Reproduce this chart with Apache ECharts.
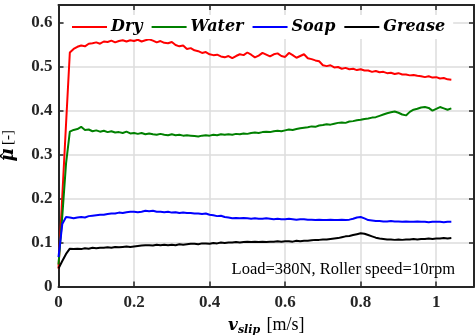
<!DOCTYPE html>
<html>
<head>
<meta charset="utf-8">
<script src="https://cdn.jsdelivr.net/npm/echarts@6/dist/echarts.min.js"></script>
<style>
  html, body { margin: 0; padding: 0; background: #fff; }
  #main { width: 476px; height: 336px; }
</style>
</head>
<body>
<div id="main"></div>
<script>
// slip velocity [m/s]
var slip = [
  0.00, 0.01, 0.02, 0.03, 0.04, 0.05, 0.06, 0.07, 0.08, 0.09,
  0.10, 0.11, 0.12, 0.13, 0.14, 0.15, 0.16, 0.17, 0.18, 0.19,
  0.20, 0.21, 0.22, 0.23, 0.24, 0.25, 0.26, 0.27, 0.28, 0.29,
  0.30, 0.31, 0.32, 0.33, 0.34, 0.35, 0.36, 0.37, 0.38, 0.39,
  0.40, 0.41, 0.42, 0.43, 0.44, 0.45, 0.46, 0.47, 0.48, 0.49,
  0.50, 0.51, 0.52, 0.53, 0.54, 0.55, 0.56, 0.57, 0.58, 0.59,
  0.60, 0.61, 0.62, 0.63, 0.64, 0.65, 0.66, 0.67, 0.68, 0.69,
  0.70, 0.71, 0.72, 0.73, 0.74, 0.75, 0.76, 0.77, 0.78, 0.79,
  0.80, 0.81, 0.82, 0.83, 0.84, 0.85, 0.86, 0.87, 0.88, 0.89,
  0.90, 0.91, 0.92, 0.93, 0.94, 0.95, 0.96, 0.97, 0.98, 0.99,
  1.00, 1.01, 1.02, 1.03, 1.04
]

var dry = [
  0.041, 0.205, 0.370, 0.532, 0.540, 0.545, 0.548, 0.546, 0.552, 0.553,
  0.555, 0.552, 0.557, 0.556, 0.559, 0.555, 0.558, 0.560, 0.557, 0.560,
  0.558, 0.561, 0.557, 0.560, 0.562, 0.559, 0.555, 0.558, 0.554, 0.553,
  0.556, 0.549, 0.546, 0.548, 0.540, 0.542, 0.537, 0.535, 0.531, 0.533,
  0.528, 0.526, 0.527, 0.523, 0.521, 0.524, 0.519, 0.524, 0.528, 0.526,
  0.532, 0.527, 0.521, 0.525, 0.531, 0.527, 0.523, 0.528, 0.530, 0.524,
  0.522, 0.531, 0.526, 0.520, 0.524, 0.528, 0.519, 0.517, 0.514, 0.512,
  0.503, 0.501, 0.503, 0.498, 0.499, 0.495, 0.497, 0.494, 0.495, 0.492,
  0.494, 0.491, 0.491, 0.488, 0.490, 0.487, 0.488, 0.485, 0.486, 0.483,
  0.485, 0.482, 0.482, 0.480, 0.481, 0.479, 0.478, 0.476, 0.478, 0.475,
  0.476, 0.473, 0.474, 0.471, 0.470
]

var water = [
  0.050, 0.160, 0.280, 0.352, 0.356, 0.358, 0.363, 0.356, 0.357, 0.353,
  0.355, 0.352, 0.354, 0.351, 0.353, 0.350, 0.351, 0.349, 0.352, 0.348,
  0.349, 0.347, 0.349, 0.346, 0.348, 0.346, 0.345, 0.347, 0.345, 0.344,
  0.346, 0.344, 0.345, 0.343, 0.344, 0.343, 0.342, 0.341, 0.343, 0.344,
  0.343, 0.345, 0.344, 0.346, 0.345, 0.346, 0.345, 0.347, 0.346, 0.348,
  0.347, 0.349, 0.350, 0.349, 0.351, 0.352, 0.351, 0.353, 0.354, 0.353,
  0.355, 0.357, 0.356, 0.358, 0.360, 0.361, 0.362, 0.364, 0.363, 0.366,
  0.367, 0.369, 0.368, 0.370, 0.372, 0.373, 0.372, 0.375, 0.376, 0.378,
  0.379, 0.381, 0.382, 0.384, 0.385, 0.388, 0.391, 0.394, 0.396, 0.398,
  0.395, 0.391, 0.389, 0.397, 0.402, 0.404, 0.407, 0.408, 0.406, 0.400,
  0.404, 0.408, 0.405, 0.402, 0.405
]

var soap = [
  0.067, 0.142, 0.158, 0.157, 0.155, 0.157, 0.158, 0.157, 0.160, 0.161,
  0.162, 0.163, 0.163, 0.165, 0.166, 0.166, 0.168, 0.167, 0.169, 0.170,
  0.170, 0.169, 0.170, 0.172, 0.171, 0.172, 0.170, 0.170, 0.169, 0.170,
  0.168, 0.169, 0.167, 0.168, 0.167, 0.167, 0.166, 0.166, 0.165, 0.166,
  0.163, 0.162, 0.160, 0.161, 0.158, 0.157, 0.155, 0.156, 0.155, 0.156,
  0.155, 0.154, 0.155, 0.154, 0.154, 0.155, 0.154, 0.153, 0.154, 0.153,
  0.153, 0.154, 0.153, 0.152, 0.153, 0.153, 0.152, 0.152, 0.151, 0.152,
  0.151, 0.151, 0.152, 0.151, 0.151, 0.152, 0.151, 0.152, 0.154, 0.157,
  0.158, 0.155, 0.151, 0.150, 0.149, 0.149, 0.148, 0.148, 0.149, 0.148,
  0.148, 0.147, 0.148, 0.147, 0.147, 0.148, 0.147, 0.147, 0.146, 0.147,
  0.147, 0.147, 0.146, 0.147, 0.147
]

var grease = [
  0.041, 0.058, 0.074, 0.086, 0.085, 0.086, 0.085, 0.087, 0.086, 0.088,
  0.087, 0.088, 0.088, 0.089, 0.088, 0.090, 0.089, 0.090, 0.091, 0.090,
  0.091, 0.092, 0.093, 0.094, 0.094, 0.093, 0.095, 0.094, 0.095, 0.094,
  0.095, 0.094, 0.096, 0.095, 0.096, 0.097, 0.097, 0.096, 0.098, 0.098,
  0.097, 0.099, 0.098, 0.100, 0.099, 0.100, 0.100, 0.101, 0.100, 0.101,
  0.102, 0.101, 0.102, 0.101, 0.102, 0.101, 0.102, 0.102, 0.103, 0.102,
  0.103, 0.103, 0.102, 0.104, 0.103, 0.104, 0.104, 0.105, 0.106, 0.106,
  0.107, 0.107, 0.108, 0.109, 0.110, 0.112, 0.114, 0.115, 0.117, 0.119,
  0.121, 0.120, 0.117, 0.114, 0.111, 0.109, 0.108, 0.107, 0.107, 0.106,
  0.107, 0.106, 0.107, 0.107, 0.108, 0.107, 0.108, 0.108, 0.109, 0.108,
  0.109, 0.109, 0.110, 0.109, 0.110
]

var names = ['Dry', 'Water', 'Soap', 'Grease']
var colors = ['#ff0000', '#008000', '#0000ff', '#000000']
var values = [dry, water, soap, grease]

var frameColor = '#262626'
var gridColor = '#dcdcdc'
var labelFont = {
  fontFamily: 'Liberation Serif',
  fontWeight: 'bold',
  fontSize: 17,
  color: frameColor,
}

function pairs(ys) {
  return slip.map(function (x, i) {
    return [x, ys[i]]
  })
}

var chart = echarts.init(document.getElementById('main'), null, { renderer: 'canvas' })

var xBase = {
  type: 'value',
  min: 0,
  max: 1.1,
  interval: 0.2,
}
var yBase = {
  type: 'value',
  min: 0,
  max: 0.64,
  interval: 0.1,
}

var option = {
  animation: false,
  backgroundColor: '#fff',
  grid: { left: 58.5, right: 2, top: 5, bottom: 49.5, containLabel: false, outerBoundsMode: 'none' },
  legend: {
    data: names,
    left: 64,
    top: 15,
    padding: [4, 8, 4, 8],
    backgroundColor: '#fff',
    icon: 'rect',
    itemWidth: 35,
    itemHeight: 2,
    itemGap: 9,
    textStyle: {
      fontFamily: 'DejaVu Serif',
      fontStyle: 'italic',
      fontWeight: 'bold',
      fontSize: 16,
      color: '#000',
      padding: [0, 0, 0, -1],
    },
  },
  xAxis: [
    Object.assign({}, xBase, {
      position: 'bottom',
      axisLine: { show: true, onZero: false, lineStyle: { color: frameColor, width: 2 } },
      axisTick: { show: true, inside: true, length: 5, lineStyle: { color: frameColor, width: 1.5 } },
      splitLine: { show: true, lineStyle: { color: gridColor, width: 1.5 } },
      axisLabel: Object.assign({}, labelFont, {
        margin: 8,
        showMaxLabel: false,
        formatter: function (v) {
          if (v > 1.0001) return ''
          return String(Math.round(v * 10) / 10)
        },
      }),
      name: '{v|v}{s|slip} {u|[m/s]}',
      nameLocation: 'middle',
      nameGap: 26,
      nameTextStyle: {
        rich: {
          v: { fontFamily: 'DejaVu Serif', fontStyle: 'italic', fontWeight: 'bold', fontSize: 17, color: '#000' },
          s: { fontFamily: 'DejaVu Serif', fontStyle: 'italic', fontWeight: 'bold', fontSize: 11, color: '#000', padding: [9, 0, 0, 0] },
          u: { fontFamily: 'Liberation Serif', fontSize: 18, color: '#000', padding: [0, 0, 0, 3] },
        },
      },
    }),
    Object.assign({}, xBase, {
      position: 'top',
      axisLine: { show: true, onZero: false, lineStyle: { color: frameColor, width: 2 } },
      axisTick: { show: true, inside: true, length: 5, lineStyle: { color: frameColor, width: 1.5 } },
      splitLine: { show: false },
      axisLabel: { show: false },
    }),
  ],
  yAxis: [
    Object.assign({}, yBase, {
      position: 'left',
      axisLine: { show: true, onZero: false, lineStyle: { color: frameColor, width: 2 } },
      axisTick: { show: true, inside: true, length: 5, lineStyle: { color: frameColor, width: 1.5 } },
      splitLine: { show: true, lineStyle: { color: gridColor, width: 1.5 } },
      axisLabel: Object.assign({}, labelFont, {
        margin: 6,
        showMaxLabel: false,
        formatter: function (v) {
          if (v > 0.6001) return ''
          return String(Math.round(v * 10) / 10)
        },
      }),
      name: '{m|\u03bc} {u|[-]}',
      nameLocation: 'middle',
      nameRotate: 90,
      nameGap: 41,
      nameTextStyle: {
        rich: {
          m: { fontFamily: 'DejaVu Serif', fontStyle: 'italic', fontWeight: 'bold', fontSize: 18, color: '#000' },
          u: { fontFamily: 'Liberation Serif', fontSize: 15, color: '#000' },
        },
      },
    }),
    Object.assign({}, yBase, {
      position: 'right',
      axisLine: { show: true, onZero: false, lineStyle: { color: frameColor, width: 2 } },
      axisTick: { show: true, inside: true, length: 5, lineStyle: { color: frameColor, width: 1.5 } },
      splitLine: { show: false },
      axisLabel: { show: false },
    }),
  ],
  graphic: [
    {
      // hat over mu
      type: 'text',
      x: 9,
      y: 156,
      rotation: Math.PI / 2,
      style: {
        text: '\u02c6',
        fontFamily: 'DejaVu Serif',
        fontWeight: 'bold',
        fontSize: 16,
        fill: '#000',
        align: 'center',
        verticalAlign: 'middle',
      },
      z: 100,
    },
    {
      type: 'text',
      right: 21,
      top: 261,
      style: {
        text: 'Load=380N, Roller speed=10rpm',
        fontFamily: 'Liberation Serif',
        fontSize: 16.5,
        fill: '#000',
      },
      z: 100,
    },
  ],
  series: names.map(function (n, i) {
    return {
      name: n,
      type: 'line',
      xAxisIndex: 0,
      yAxisIndex: 0,
      data: pairs(values[i]),
      showSymbol: false,
      symbol: 'none',
      lineStyle: { color: colors[i], width: 2 },
      itemStyle: { color: colors[i] },
      z: 2 + i,
    }
  }),
}

chart.setOption(option)
</script>
</body>
</html>
